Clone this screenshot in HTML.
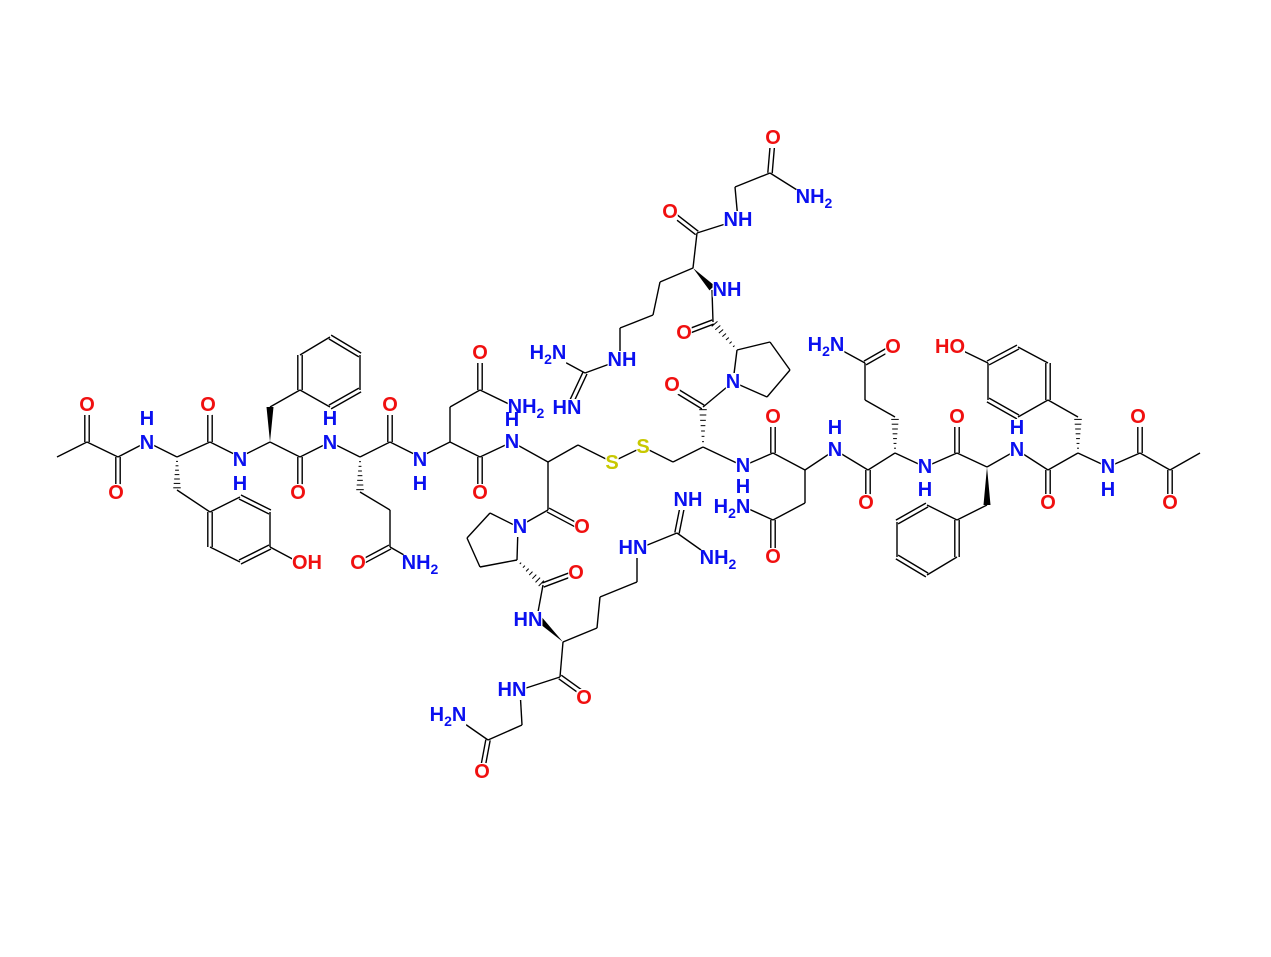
<!DOCTYPE html>
<html><head><meta charset="utf-8"><style>
html,body{margin:0;padding:0;background:#fff;}
svg{display:block;}
text{font-family:"Liberation Sans",Arial,sans-serif;font-size:20px;font-weight:bold;text-anchor:middle;dominant-baseline:central;}
.N{fill:#0a10f0}.O{fill:#f01010}.S{fill:#c8c800}
tspan.s{font-size:14px}
</style></head><body>
<svg id="s" width="1271" height="957" viewBox="0 0 1271 957" xmlns="http://www.w3.org/2000/svg">
<g id="b" stroke="#000" stroke-width="1.4" fill="none"></g>
<g id="bg" fill="#fff"></g>
<g id="t">
<text x="87" y="405" class="O">O</text>
<text x="116" y="493" class="O">O</text>
<text x="147" y="443" class="N">N</text><text x="147" y="419" class="N">H</text>
<text x="208" y="405" class="O">O</text>
<text x="240" y="460" class="N">N</text><text x="240" y="484" class="N">H</text>
<text x="307" y="563" class="O">OH</text>
<text x="298" y="493" class="O">O</text>
<text x="330" y="443" class="N">N</text><text x="330" y="419" class="N">H</text>
<text x="390" y="405" class="O">O</text>
<text x="358" y="563" class="O">O</text>
<text x="420" y="563" class="N">NH<tspan class="s" dy="6">2</tspan></text>
<text x="420" y="460" class="N">N</text><text x="420" y="484" class="N">H</text>
<text x="480" y="353" class="O">O</text>
<text x="526" y="407" class="N">NH<tspan class="s" dy="6">2</tspan></text>
<text x="480" y="493" class="O">O</text>
<text x="512" y="442" class="N">N</text><text x="512" y="420" class="N">H</text>
<text x="612" y="463" class="S">S</text>
<text x="643" y="447" class="S">S</text>
<text x="582" y="527" class="O">O</text>
<text x="520" y="527" class="N">N</text>
<text x="576" y="573" class="O">O</text>
<text x="528" y="620" class="N">HN</text>
<text x="633" y="548" class="N">HN</text>
<text x="688" y="500" class="N">NH</text>
<text x="718" y="558" class="N">NH<tspan class="s" dy="6">2</tspan></text>
<text x="584" y="698" class="O">O</text>
<text x="512" y="690" class="N">HN</text>
<text x="482" y="772" class="O">O</text>
<text x="448" y="715" class="N">H<tspan class="s" dy="6">2</tspan><tspan dy="-6">N</tspan></text>
<text x="773" y="138" class="O">O</text>
<text x="814" y="197" class="N">NH<tspan class="s" dy="6">2</tspan></text>
<text x="738" y="220" class="N">NH</text>
<text x="670" y="212" class="O">O</text>
<text x="727" y="290" class="N">NH</text>
<text x="684" y="333" class="O">O</text>
<text x="622" y="360" class="N">NH</text>
<text x="548" y="353" class="N">H<tspan class="s" dy="6">2</tspan><tspan dy="-6">N</tspan></text>
<text x="567" y="408" class="N">HN</text>
<text x="672" y="385" class="O">O</text>
<text x="733" y="382" class="N">N</text>
<text x="743" y="466" class="N">N</text><text x="743" y="487" class="N">H</text>
<text x="732" y="507" class="N">H<tspan class="s" dy="6">2</tspan><tspan dy="-6">N</tspan></text>
<text x="773" y="417" class="O">O</text>
<text x="773" y="557" class="O">O</text>
<text x="835" y="450" class="N">N</text><text x="835" y="428" class="N">H</text>
<text x="866" y="503" class="O">O</text>
<text x="893" y="347" class="O">O</text>
<text x="826" y="345" class="N">H<tspan class="s" dy="6">2</tspan><tspan dy="-6">N</tspan></text>
<text x="925" y="467" class="N">N</text><text x="925" y="490" class="N">H</text>
<text x="957" y="417" class="O">O</text>
<text x="1017" y="450" class="N">N</text><text x="1017" y="428" class="N">H</text>
<text x="1048" y="503" class="O">O</text>
<text x="950" y="347" class="O">HO</text>
<text x="1108" y="467" class="N">N</text><text x="1108" y="490" class="N">H</text>
<text x="1138" y="417" class="O">O</text>
<text x="1170" y="503" class="O">O</text>
</g>
</svg>
<script>
var B=[
[57,457,87,442,1],[87,442,87,407,2],[87,442,118,457,1],[118,457,118,492,2],[118,457,147,442,1],[147,442,177,457,1],
[177,457,177,490,'h'],[177,490,210,512,1],[210,512,240,497,1],[240,497,270,512,2],[270,512,270,547,1],[270,547,240,562,2],[240,562,210,547,1],[210,547,210,512,2],[270,547,300,563,1],
[177,457,210,442,1],[210,442,210,407,2],[210,442,240,457,1],[240,457,270,442,1],
[270,442,270,407,'w'],[270,407,300,390,1],[300,390,300,355,2],[300,355,330,337,1],[330,337,360,355,2],[360,355,360,390,1],[360,390,330,407,2],[330,407,300,390,1],
[270,442,300,457,1],[300,457,300,492,2],[300,457,330,442,1],[330,442,360,457,1],
[360,457,360,492,'h'],[360,492,390,510,1],[390,510,390,547,1],[390,547,360,563,2],[390,547,418,563,1],
[360,457,390,442,1],[390,442,390,407,2],[390,442,420,457,1],[420,457,450,442,1],
[450,442,450,407,1],[450,407,480,390,1],[480,390,480,355,2],[480,390,515,407,1],
[450,442,480,457,1],[480,457,480,492,2],[480,457,512,442,1],[512,442,548,462,1],
[548,462,578,445,1],[578,445,612,462,1],[612,462,643,447,1],[643,447,673,462,1],[673,462,703,447,1],
[548,462,548,510,1],[548,510,580,527,2],[548,510,518,527,1],
[518,527,490,513,1],[490,513,467,538,1],[467,538,480,567,1],[480,567,517,560,1],[517,560,518,527,1],
[517,560,543,585,'h'],[543,585,575,573,2],[543,585,538,612,1],
[563,642,538,618,'w'],[563,642,597,628,1],[597,628,600,597,1],[600,597,637,582,1],[637,582,637,552,1],
[640,548,677,533,1],[677,533,683,503,2],[677,533,708,555,1],
[563,642,560,677,1],[560,677,585,695,2],[560,677,520,690,1],[520,690,522,725,1],[522,725,488,740,1],[488,740,482,772,2],[488,740,455,717,1],
[703,447,703,407,'h'],[703,407,672,388,2],[703,407,733,382,1],
[733,382,737,350,1],[737,350,770,342,1],[770,342,790,370,1],[790,370,767,397,1],[767,397,733,382,1],
[737,350,713,322,'h'],[713,322,684,333,2],[713,322,712,290,1],
[693,268,712,288,'w'],[693,268,697,233,1],[697,233,670,212,2],[697,233,738,220,1],[738,220,735,187,1],[735,187,770,173,1],[770,173,773,138,2],[770,173,805,195,1],
[693,268,660,282,1],[660,282,653,315,1],[653,315,620,328,1],[620,328,620,355,1],
[615,362,585,373,1],[585,373,548,353,1],[585,373,570,405,2],
[703,447,743,466,1],[743,466,773,453,1],[773,453,773,417,2],[773,453,805,470,1],
[805,470,805,503,1],[805,503,773,520,1],[773,520,773,557,2],[773,520,740,505,1],
[805,470,835,450,1],[835,450,868,470,1],[868,470,868,503,2],[868,470,895,453,1],
[895,453,895,417,'h'],[895,417,865,400,1],[865,400,865,363,1],[865,363,893,347,2],[865,363,832,345,1],
[895,453,925,467,1],[925,467,957,453,1],[957,453,957,417,2],[957,453,987,467,1],
[987,467,987,505,'w'],[987,505,957,520,1],[957,520,957,557,2],[957,557,927,575,1],[927,575,897,557,2],[897,557,897,522,1],[897,522,927,505,2],[927,505,957,520,1],
[987,467,1017,450,1],[1017,450,1048,470,1],[1048,470,1048,503,2],[1048,470,1078,453,1],
[1078,453,1078,417,'h'],[1078,417,1048,400,1],[1048,400,1048,363,2],[1048,363,1018,347,1],[1018,347,988,363,2],[988,363,988,400,1],[988,400,1018,417,2],[1018,417,1048,400,1],[988,363,955,347,1],
[1078,453,1108,467,1],[1108,467,1140,453,1],[1140,453,1140,417,2],[1140,453,1170,470,1],[1170,470,1170,503,2],[1170,470,1200,453,1]
];
var g=document.getElementById('b'),h='';
B.forEach(function(b){var x1=b[0],y1=b[1],x2=b[2],y2=b[3],t=b[4];var dx=x2-x1,dy=y2-y1,L=Math.hypot(dx,dy),px=-dy/L,py=dx/L;
if(t===1)h+='<line x1="'+x1+'" y1="'+y1+'" x2="'+x2+'" y2="'+y2+'"/>';
else if(t===2){[-2.2,2.2].forEach(function(o){h+='<line x1="'+(x1+px*o)+'" y1="'+(y1+py*o)+'" x2="'+(x2+px*o)+'" y2="'+(y2+py*o)+'"/>';});}
else if(t==='w'){h+='<polygon fill="#000" stroke="none" points="'+x1+','+y1+' '+(x2+px*3.5)+','+(y2+py*3.5)+' '+(x2-px*3.5)+','+(y2-py*3.5)+'"/>';}
else{for(var i=1;i<=7;i++){var f=i/7.5,cx=x1+dx*f,cy=y1+dy*f,w=0.5+3.5*f;h+='<line x1="'+(cx+px*w)+'" y1="'+(cy+py*w)+'" x2="'+(cx-px*w)+'" y2="'+(cy-py*w)+'" stroke-width="1"/>';}}
});
g.innerHTML=h;
var bg=document.getElementById('bg'),r='';
document.querySelectorAll('#t text').forEach(function(t){var bb=t.getBBox();r+='<rect x="'+(bb.x)+'" y="'+(bb.y+2)+'" width="'+(bb.width)+'" height="'+(bb.height-3)+'" rx="4"/>';});
bg.innerHTML=r;
</script>
</body></html>
